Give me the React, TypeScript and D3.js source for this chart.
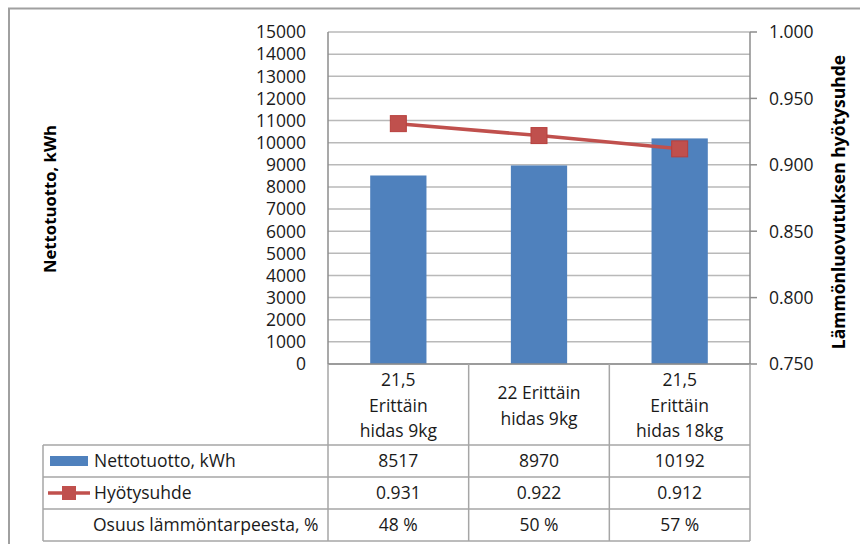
import React from "react";
import * as d3 from "d3";

// Chart data
const categories: string[][] = [
  ["21,5", "Erittäin", "hidas 9kg"],
  ["22 Erittäin", "hidas 9kg"],
  ["21,5", "Erittäin", "hidas 18kg"],
];
const nettotuotto: number[] = [8517, 8970, 10192];
const hyotysuhde: number[] = [0.931, 0.922, 0.912];
const osuus: number[] = [48, 50, 57];
const leftTicks: number[] = d3.range(0, 15001, 1000);
const rightTicks: number[] = [0.75, 0.8, 0.85, 0.9, 0.95, 1.0];

const seriesNames = ["Nettotuotto, kWh", "Hyötysuhde", "Osuus lämmöntarpeesta, %"];
const leftTitle = "Nettotuotto, kWh";
const rightTitle = "Lämmönluovutuksen hyötysuhde";

const W = 860;
const H = 544;
const FONT = "'Open Sans', Lato, sans-serif";
const BLUE = "#4F81BD";
const RED = "#C0504D";
const GRID = "#b9b9b9";
const AXIS = "#8c8c8c";
const TABLE = "#a6a6a6";
const TEXT = "#1a1a1a";

export default function App() {
  const plot = { left: 328, right: 750, top: 32, bottom: 364 };
  const tableLeft = 43;
  const headerBottom = 445;
  const rowH = 32;
  const rows = [headerBottom, headerBottom + rowH, headerBottom + 2 * rowH, headerBottom + 3 * rowH];

  const x = d3
    .scaleBand<number>()
    .domain(categories.map((_, i) => i))
    .range([plot.left, plot.right])
    .paddingInner(0.6)
    .paddingOuter(0.3);
  const step = (plot.right - plot.left) / categories.length;
  const colEdges = d3.range(categories.length + 1).map((i) => plot.left + i * step);
  const colCenter = (i: number) => plot.left + (i + 0.5) * step;

  const yL = d3.scaleLinear().domain([0, 15000]).range([plot.bottom, plot.top]);
  const yR = d3.scaleLinear().domain([0.75, 1.0]).range([plot.bottom, plot.top]);

  const line = d3
    .line<number>()
    .x((_, i) => colCenter(i))
    .y((d) => yR(d));

  const fmtR = d3.format(".3f");
  const rowText: string[][] = [
    nettotuotto.map((v) => String(v)),
    hyotysuhde.map((v) => fmtR(v)),
    osuus.map((v) => `${v} %`),
  ];

  const fs = 17.5;
  const lineH = 25.5;
  const headerMid = (plot.bottom + headerBottom) / 2 + 1;

  return (
    <svg
      width={W}
      height={H}
      viewBox={`0 0 ${W} ${H}`}
      style={{ position: "absolute", left: 0, top: 0, background: "#fff" }}
      fontFamily={FONT}
    >
      {/* chart frame */}
      <rect x={9} y={8.5} width={W + 10} height={H + 10} fill="#fff" stroke="#a0a0a0" strokeWidth={2} />

      {/* horizontal gridlines */}
      {leftTicks.map((t) => (
        <line key={t} x1={plot.left} x2={plot.right} y1={yL(t)} y2={yL(t)} stroke={GRID} strokeWidth={1.5} />
      ))}

      {/* bars */}
      {nettotuotto.map((v, i) => (
        <rect key={i} x={x(i)} y={yL(v)} width={x.bandwidth()} height={yL(0) - yL(v)} fill={BLUE} />
      ))}

      {/* axes */}
      <line x1={plot.left} x2={plot.left} y1={plot.top} y2={plot.bottom} stroke={AXIS} strokeWidth={1.5} />
      <line x1={plot.right} x2={plot.right} y1={plot.top} y2={plot.bottom} stroke={AXIS} strokeWidth={1.5} />
      <line x1={plot.left} x2={plot.right} y1={plot.bottom} y2={plot.bottom} stroke={AXIS} strokeWidth={1.5} />
      {rightTicks.map((t) => (
        <line key={t} x1={plot.right} x2={plot.right + 7} y1={yR(t)} y2={yR(t)} stroke={AXIS} strokeWidth={1.5} />
      ))}

      {/* left tick labels */}
      {leftTicks.map((t) => (
        <text key={t} x={306} y={yL(t)} dy="0.36em" textAnchor="end" fontSize={fs} fill={TEXT}>
          {t}
        </text>
      ))}
      {/* right tick labels */}
      {rightTicks.map((t) => (
        <text key={t} x={769} y={yR(t)} dy="0.36em" textAnchor="start" fontSize={fs} fill={TEXT}>
          {fmtR(t)}
        </text>
      ))}

      {/* efficiency line */}
      <path d={line(hyotysuhde) || ""} fill="none" stroke={RED} strokeWidth={3.5} />
      {hyotysuhde.map((v, i) => (
        <rect key={i} x={colCenter(i) - 8} y={yR(v) - 8} width={16} height={16} fill={RED} stroke="#b8403d" strokeWidth={1} />
      ))}

      {/* axis titles */}
      <text
        transform={`translate(50,199) rotate(-90)`}
        textAnchor="middle"
        dy="0.36em"
        fontSize={16.7}
        fontWeight="bold"
        fill="#000"
      >
        {leftTitle}
      </text>
      <text
        transform={`translate(839,202) rotate(-90)`}
        textAnchor="middle"
        dy="0.36em"
        fontSize={17.5}
        fontWeight="bold"
        fill="#000"
      >
        {rightTitle}
      </text>

      {/* data table: category header */}
      {colEdges.map((xe, i) => (
        <line key={i} x1={xe} x2={xe} y1={plot.bottom} y2={rows[3]} stroke={TABLE} strokeWidth={1.5} />
      ))}
      {categories.map((lines, i) => (
        <text key={i} textAnchor="middle" fontSize={fs} fill={TEXT}>
          {lines.map((s, j) => (
            <tspan key={j} x={colCenter(i)} y={headerMid + (j - (lines.length - 1) / 2) * lineH} dy="0.36em">
              {s}
            </tspan>
          ))}
        </text>
      ))}

      {/* data table: rows */}
      {rows.map((ry, i) => (
        <line key={i} x1={tableLeft} x2={plot.right} y1={ry} y2={ry} stroke={TABLE} strokeWidth={1.5} />
      ))}
      <line x1={tableLeft} x2={tableLeft} y1={rows[0]} y2={rows[3]} stroke={TABLE} strokeWidth={1.5} />
      {rowText.map((vals, r) =>
        vals.map((s, i) => (
          <text
            key={`${r}-${i}`}
            x={colCenter(i)}
            y={(rows[r] + rows[r + 1]) / 2}
            dy="0.36em"
            textAnchor="middle"
            fontSize={fs}
            fill={TEXT}
          >
            {s}
          </text>
        ))
      )}

      {/* row labels with legend keys */}
      <rect x={50} y={(rows[0] + rows[1]) / 2 - 5} width={38} height={10} fill={BLUE} />
      <line x1={48} x2={90} y1={(rows[1] + rows[2]) / 2} y2={(rows[1] + rows[2]) / 2} stroke={RED} strokeWidth={3.5} />
      <rect x={62} y={(rows[1] + rows[2]) / 2 - 7} width={14} height={14} fill={RED} />
      {seriesNames.map((s, r) => (
        <text key={s} x={r < 2 ? 94 : 93} y={(rows[r] + rows[r + 1]) / 2} dy="0.36em" fontSize={fs} fill={TEXT}>
          {s}
        </text>
      ))}
    </svg>
  );
}
